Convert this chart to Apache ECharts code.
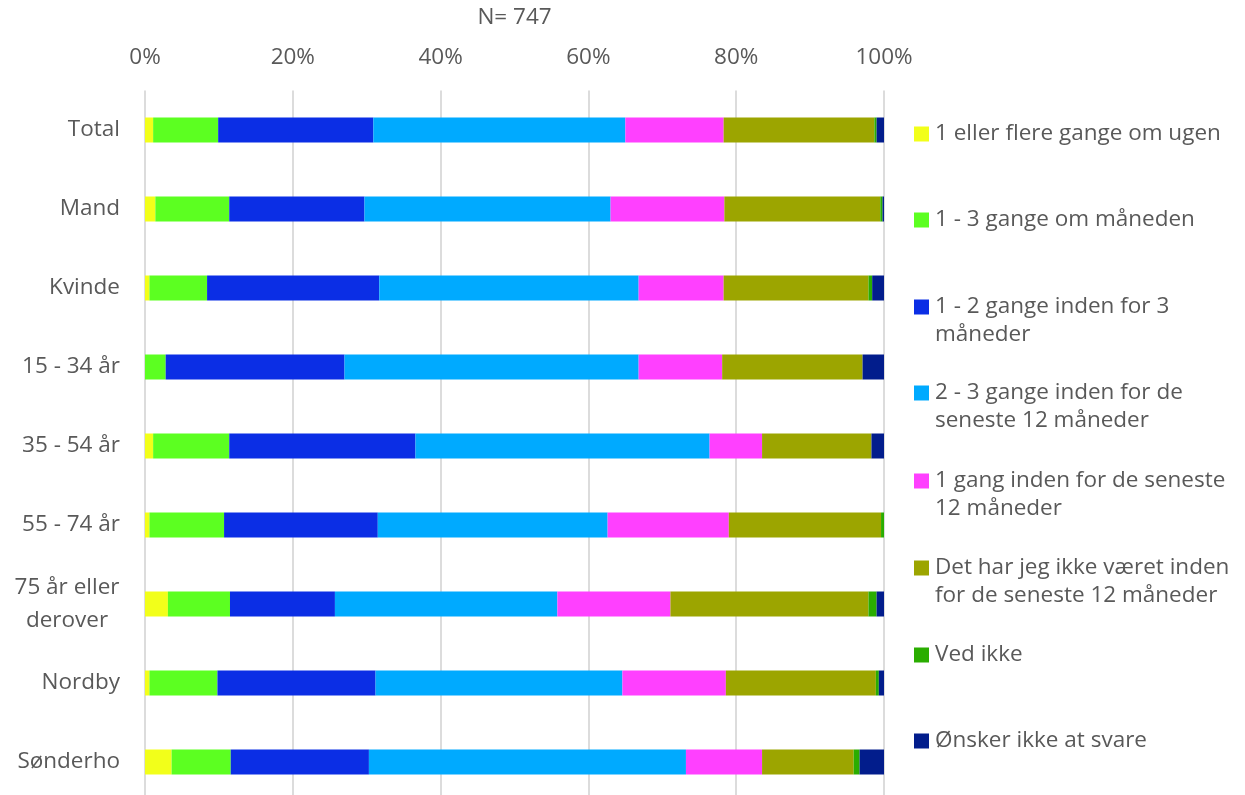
<!DOCTYPE html>
<html>
<head>
<meta charset="utf-8">
<script src="https://cdn.jsdelivr.net/npm/echarts@6/dist/echarts.min.js"></script>
<style>html,body{margin:0;padding:0;background:#fff}#c{width:1245px;height:795px}</style>
</head>
<body>
<div id="c"></div>
<script>
const categories = ['Total', 'Mand', 'Kvinde', '15 - 34 år', '35 - 54 år', '55 - 74 år', '75 år eller\nderover', 'Nordby', 'Sønderho'];
const seriesNames = ['1 eller flere gange om ugen', '1 - 3 gange om måneden', '1 - 2 gange inden for 3 måneder', '2 - 3 gange inden for de seneste 12 måneder', '1 gang inden for de seneste 12 måneder', 'Det har jeg ikke været inden for de seneste 12 måneder', 'Ved ikke', 'Ønsker ikke at svare'];
const s1 = [1.1, 1.4, 0.6, 0, 1.1, 0.6, 3.1, 0.6, 3.6];
const s2 = [8.8, 10.0, 7.8, 2.8, 10.3, 10.1, 8.4, 9.2, 8.0];
const s3 = [21.0, 18.3, 23.3, 24.2, 25.2, 20.8, 14.2, 21.4, 18.7];
const s4 = [34.1, 33.3, 35.1, 39.8, 39.8, 31.1, 30.1, 33.4, 42.9];
const s5 = [13.3, 15.4, 11.5, 11.3, 7.1, 16.4, 15.3, 14.0, 10.3];
const s6 = [20.4, 21.1, 19.6, 19.0, 14.8, 20.6, 26.8, 20.3, 12.4];
const s7 = [0.3, 0.3, 0.5, 0, 0, 0.4, 1.1, 0.4, 0.8];
const s8 = [1.0, 0.2, 1.6, 2.9, 1.7, 0, 1.0, 0.7, 3.3];
const tickValues = [0, 20, 40, 60, 80, 100];
const sampleLabel = 'N= 747';

const seriesData = [s1, s2, s3, s4, s5, s6, s7, s8];
const colors = ['#f2ff1a', '#5cff21', '#0b2ee5', '#00aaff', '#ff40ff', '#9ca500', '#2aad00', '#021d8c'];
// legend layout: first line / second line and y of first line centre
const legendFirst = ['1 eller flere gange om ugen', '1 - 3 gange om måneden', '1 - 2 gange inden for 3', '2 - 3 gange inden for de', '1 gang inden for de seneste', 'Det har jeg ikke været inden', 'Ved ikke', 'Ønsker ikke at svare'];
const legendSecond = ['', '', 'måneder', 'seneste 12 måneder', '12 måneder', 'for de seneste 12 måneder', '', ''];
const legendY = [130, 216, 303, 389, 477, 564, 651, 737];

const FONT = 'Open Sans';
const TXT = '#595959';
const FS = 22.5;

const legends = seriesNames.map((n, i) => ({
  data: [n],
  left: 914,
  top: legendY[i] - 7.5,
  padding: 0,
  itemWidth: 15,
  itemHeight: 15,
  icon: 'rect',
  selectedMode: false,
  formatter: () => legendFirst[i],
  textStyle: { fontFamily: FONT, fontSize: FS, color: TXT, lineHeight: 15, padding: [0, 0, 0, 1] }
}));

const graphics = [];
legendSecond.forEach((t, i) => {
  if (t) graphics.push({
    type: 'text', left: 935, top: legendY[i] + 31.5 - 12,
    style: { text: t, fontFamily: FONT, fontSize: FS, fill: TXT, lineHeight: 24 }
  });
});

const chart = echarts.init(document.getElementById('c'), null, { renderer: 'canvas' });
chart.setOption({
  animation: false,
  backgroundColor: '#fff',
  title: {
    text: sampleLabel, left: 514.5, top: 6, padding: 0, textAlign: 'center',
    textStyle: { fontFamily: FONT, fontSize: FS, fontWeight: 'normal', color: TXT, lineHeight: 24 }
  },
  legend: legends,
  graphic: graphics,
  grid: { left: 145, top: 90.5, width: 739, height: 711, containLabel: false, outerBoundsMode: 'none' },
  xAxis: {
    type: 'value', position: 'top', min: 0, max: 100, interval: 20,
    axisLine: { show: false }, axisTick: { show: false },
    splitLine: { show: true, lineStyle: { color: '#dcdcdc', width: 2 } },
    axisLabel: {
      margin: 21, fontFamily: FONT, fontSize: FS, color: TXT,
      formatter: v => (tickValues.includes(v) ? v + '%' : '')
    }
  },
  yAxis: {
    type: 'category', data: categories, inverse: true,
    axisLine: { show: false }, axisTick: { show: false },
    axisLabel: {
      margin: 25, fontFamily: FONT, fontSize: FS, color: TXT, lineHeight: 33, align: 'right',
      formatter: v => v.indexOf('\n') >= 0 ? v.split('\n').map(s => '{c|' + s + '}').join('\n') : v,
      rich: { c: { width: 106, align: 'center', fontFamily: FONT, fontSize: FS, color: TXT, lineHeight: 33 } }
    }
  },
  series: seriesNames.map((n, i) => ({
    name: n, type: 'bar', stack: 'all', barWidth: 25,
    data: seriesData[i],
    itemStyle: { color: colors[i] },
    emphasis: { disabled: true }
  }))
});
</script>
</body>
</html>
